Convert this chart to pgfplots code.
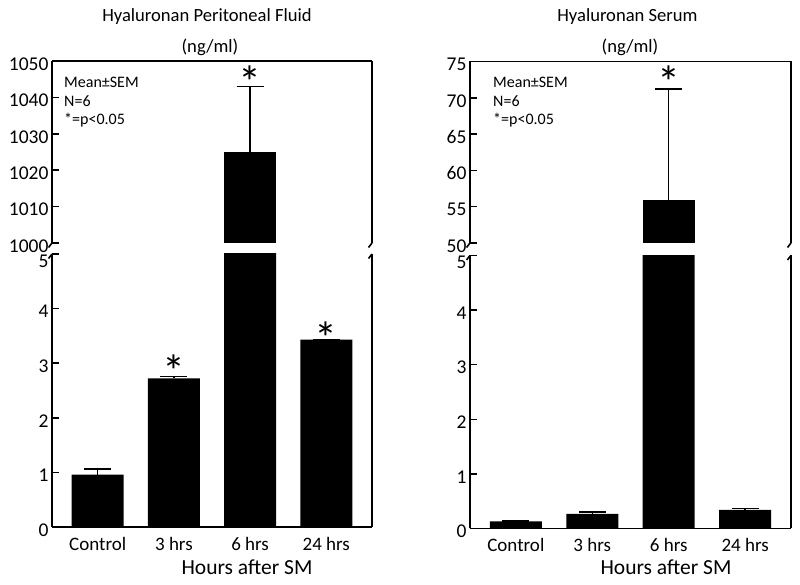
\documentclass[border=0pt]{standalone}
\usepackage{pgfplots}
\pgfplotsset{compat=1.18}
\usepackage{pgfplotstable}
\usepackage{fontspec}
\setmainfont{Carlito}

\pgfplotstableread{
x y e
0 0.96 0.10
1 2.72 0.04
2 1025 18
3 3.43 0.0
}\fluid
\pgfplotstableread{
x y e
0 0.13 0.01
1 0.27 0.035
2 55.9 15.3
3 0.34 0.03
}\serum

\pgfplotsset{
  base/.style={
    scale only axis, anchor=south west,
    xmin=-0.6, xmax=3.6,
    ytick pos=left,
    tick align=inside, major tick length=7pt,
    ytick style={line width=1.5pt, black},
    xtick style={draw=none},
    yticklabel style={font=\fontsize{19.5}{21}\selectfont, yshift=-3pt},
    xticklabel style={font=\fontsize{19}{21}\selectfont},
    /pgf/number format/assume math mode=true,
    /pgf/number format/1000 sep={},
  },
  noarrows/.style={
    axis line style={line width=1.8pt, -},
    x axis line style={-}, y axis line style={-},
  },
  upper/.style={base, axis x line=top, axis y line=box, noarrows, xtick=\empty},
  lower/.style={base, axis x line=bottom, axis y line=box, noarrows, xtick={0,1,2,3},
    xticklabels={Control,3 hrs,6 hrs,24 hrs},
    ymin=0, ymax=5, ytick={0,1,2,3,4},
    extra y ticks={5},
    extra y tick style={yticklabel style={yshift=-4pt}},
    restrict y to domain*=-1:10,
    xticklabel style={yshift=-3pt}},
  bars/.style={ybar, bar width=52pt, fill=black, draw=none,
    error bars/.cd, y dir=plus, y explicit, error mark=|,
    error bar style={line width=1.5pt, black},
    error mark options={line width=1.5pt, mark size=13.5pt, black}},
}

\begin{document}
\begin{tikzpicture}
\useasboundingbox (0pt,0pt) rectangle (800pt,585pt);
\def\ast{\fontsize{46}{46}\selectfont *}

% ---------- left panel ----------
\begin{axis}[upper, at={(52pt,342pt)}, width=320pt, height=182pt,
  ymin=1000, ymax=1050, ytick={1000,1010,...,1050},
  restrict y to domain=999:2000]
\addplot[bars] table[x=x, y=y, y error=e] {\fluid};
\node at (axis cs:2,1044.3) {\ast};
\end{axis}
\begin{axis}[lower, at={(52pt,58pt)}, width=320pt, height=273pt]
\addplot[bars] table[x=x, y=y, y error=e] {\fluid};
\node at (axis cs:1,2.85) {\ast};
\node at (axis cs:3,3.46) {\ast};
\end{axis}

% ---------- right panel ----------
\begin{axis}[upper, at={(470pt,342pt)}, width=321pt, height=181.5pt,
  ymin=50, ymax=75, ytick={50,55,...,75},
  restrict y to domain=49:100]
\addplot[bars] table[x=x, y=y, y error=e] {\serum};
\node at (axis cs:2,72.2) {\ast};
\end{axis}
\begin{axis}[lower, at={(470pt,56.5pt)}, width=321pt, height=273pt]
\addplot[bars] table[x=x, y=y, y error=e] {\serum};
\end{axis}

% break marks
\foreach \xx in {52,372,470,791} {
  \draw[line width=1.6pt] (\xx pt,342pt) -- ++(-3.5pt,-4.5pt);
}
\foreach \xx in {52,372} { \draw[line width=1.6pt] (\xx pt,331pt) -- ++(-3.5pt,-4.5pt); }
\foreach \xx in {470,791} { \draw[line width=1.6pt] (\xx pt,329.5pt) -- ++(-3.5pt,-4.5pt); }

% annotations
\begin{scope}[every node/.style={font=\fontsize{16}{18}\selectfont, anchor=west, inner sep=0pt}]
\node at (64pt,503pt) {Mean±SEM};
\node at (64pt,484pt) {N=6};
\node at (64pt,465pt) {*=p<0.05};
\node at (493pt,503pt) {Mean±SEM};
\node at (493pt,484pt) {N=6};
\node at (493pt,465pt) {*=p<0.05};
\end{scope}

% titles
\begin{scope}[every node/.style={font=\fontsize{18.6}{20}\selectfont, inner sep=0pt}]
\node at (207pt,568pt) {Hyaluronan Peritoneal Fluid};
\node at (210pt,538pt) {(ng/ml)};
\node at (627.5pt,568pt) {Hyaluronan Serum};
\node at (630pt,538pt) {(ng/ml)};
\end{scope}
\node[font=\fontsize{21.5}{23}\selectfont, inner sep=0pt] at (247pt,18pt) {Hours after SM};
\node[font=\fontsize{21.5}{23}\selectfont, inner sep=0pt] at (666pt,18pt) {Hours after SM};
\end{tikzpicture}
\end{document}
